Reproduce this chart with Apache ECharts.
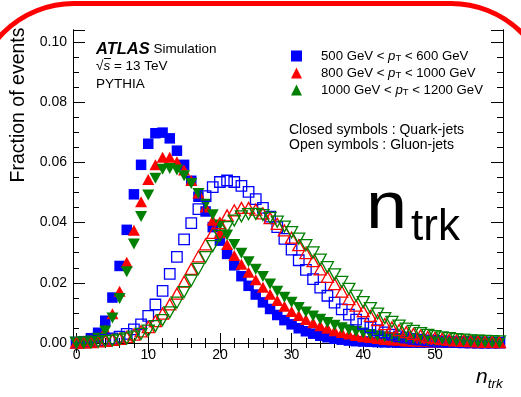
<!DOCTYPE html>
<html>
<head>
<meta charset="utf-8">
<script src="https://cdn.jsdelivr.net/npm/echarts@6/dist/echarts.min.js"></script>
<style>
  html, body { margin: 0; padding: 0; background: #fff; }
  #chart { width: 521px; height: 397px; }
</style>
</head>
<body>
<div id="chart"></div>
<script>
// Track multiplicity bins (bin centres)
const nTrk = [0,1,2,3,4,5,6,7,8,9,10,11,12,13,14,15,16,17,18,19,
              20,21,22,23,24,25,26,27,28,29,30,31,32,33,34,35,36,37,38,39,
              40,41,42,43,44,45,46,47,48,49,50,51,52,53,54,55,56,57,58,59];

// Quark-jets (closed symbols)
const quark500 = [0.0002,0.0006,0.0016,0.0034,0.0074,0.0151,0.0256,0.0376,0.0494,0.0592,
  0.0662,0.0697,0.0699,0.0680,0.0639,0.0592,0.0539,0.0486,0.0437,0.0385,
  0.0340,0.0296,0.0258,0.0222,0.0190,0.0161,0.0135,0.0113,0.0093,0.0076,
  0.0062,0.0049,0.0039,0.0031,0.0024,0.0019,0.0014,0.0011,0.0008,0.0006,
  0.0005,0.0004,0.0003,0.0002,0.0002,0.0001,0.0001,0.0001,0.0001,0.0001,
  0.0001,0.0001,0.0001,0.0001,0.0001,0.0001,0.0001,0.0001,0.0001,0.0001];
const quark800 = [0.0001,0.0003,0.0008,0.0018,0.0043,0.0097,0.0172,0.0268,0.0375,0.0469,
  0.0543,0.0592,0.0617,0.0617,0.0602,0.0575,0.0540,0.0498,0.0452,0.0408,
  0.0366,0.0327,0.0291,0.0262,0.0235,0.0210,0.0185,0.0162,0.0141,0.0122,
  0.0105,0.0091,0.0078,0.0067,0.0057,0.0049,0.0041,0.0035,0.0030,0.0025,
  0.0021,0.0018,0.0015,0.0012,0.0010,0.0009,0.0007,0.0006,0.0005,0.0004,
  0.0004,0.0003,0.0002,0.0002,0.0002,0.0001,0.0001,0.0001,0.0001,0.0001];
const quark1000 = [0.0001,0.0003,0.0007,0.0016,0.0040,0.0083,0.0148,0.0237,0.0329,0.0420,
  0.0492,0.0547,0.0577,0.0580,0.0575,0.0556,0.0530,0.0497,0.0461,0.0426,
  0.0392,0.0359,0.0327,0.0298,0.0270,0.0245,0.0221,0.0196,0.0172,0.0152,
  0.0135,0.0118,0.0103,0.0090,0.0079,0.0068,0.0059,0.0051,0.0044,0.0038,
  0.0033,0.0028,0.0024,0.0021,0.0018,0.0015,0.0013,0.0011,0.0010,0.0008,
  0.0007,0.0006,0.0005,0.0004,0.0004,0.0003,0.0003,0.0002,0.0002,0.0002];

// Gluon-jets (open symbols)
const gluon500 = [0.0001,0.0002,0.0004,0.0007,0.0010,0.0015,0.0021,0.0030,0.0045,0.0062,
  0.0090,0.0128,0.0173,0.0230,0.0286,0.0344,0.0398,0.0445,0.0488,0.0518,
  0.0535,0.0540,0.0535,0.0522,0.0502,0.0478,0.0449,0.0420,0.0385,0.0346,
  0.0310,0.0275,0.0243,0.0212,0.0184,0.0157,0.0134,0.0112,0.0094,0.0078,
  0.0064,0.0052,0.0043,0.0035,0.0028,0.0022,0.0018,0.0014,0.0011,0.0009,
  0.0007,0.0005,0.0004,0.0003,0.0002,0.0002,0.0001,0.0001,0.0001,0.0001];
const gluon800 = [0.0001,0.0002,0.0003,0.0005,0.0007,0.0010,0.0014,0.0020,0.0028,0.0039,
  0.0053,0.0073,0.0098,0.0128,0.0164,0.0204,0.0246,0.0288,0.0328,0.0366,
  0.0398,0.0424,0.0441,0.0449,0.0449,0.0443,0.0431,0.0415,0.0396,0.0374,
  0.0350,0.0325,0.0299,0.0272,0.0245,0.0220,0.0196,0.0171,0.0146,0.0124,
  0.0106,0.0090,0.0076,0.0063,0.0052,0.0043,0.0036,0.0030,0.0025,0.0020,
  0.0017,0.0014,0.0011,0.0009,0.0008,0.0006,0.0005,0.0004,0.0004,0.0003];
const gluon1000 = [0.0001,0.0001,0.0002,0.0004,0.0006,0.0008,0.0011,0.0015,0.0021,0.0030,
  0.0041,0.0056,0.0076,0.0102,0.0134,0.0169,0.0207,0.0246,0.0285,0.0322,
  0.0356,0.0385,0.0407,0.0421,0.0428,0.0429,0.0425,0.0416,0.0403,0.0387,
  0.0368,0.0347,0.0325,0.0301,0.0277,0.0252,0.0228,0.0203,0.0180,0.0157,
  0.0136,0.0116,0.0098,0.0083,0.0070,0.0058,0.0048,0.0040,0.0033,0.0027,
  0.0023,0.0019,0.0016,0.0013,0.0011,0.0009,0.0008,0.0007,0.0006,0.0005];

// Axis ticks
const yMajorStep = 0.02;
const yMinorStep = 0.005;
const yMax = 0.104;
const xMajorEvery = 10;
const xMinorEvery = 2;

const FONT = '"Liberation Sans", Arial, Helvetica, sans-serif';
const BLUE = '#0000ff', RED = '#ff0000', GREEN = '#008000';

const legendText = {
  q500:  '500 GeV < {p|p}{s|T} < 600 GeV',
  q800:  '800 GeV < {p|p}{s|T} < 1000 GeV',
  q1000: '1000 GeV < {p|p}{s|T} < 1200 GeV'
};

function markers(name, values, symbol, rotate, color, open) {
  return {
    name: name,
    type: 'scatter',
    data: values,
    xAxisIndex: 0,
    yAxisIndex: 0,
    symbol: symbol,
    symbolRotate: rotate,
    symbolSize: symbol === 'rect' ? [10.5, 10.5] : [12, 11],
    itemStyle: open
      ? { color: 'rgba(255,255,255,0)', borderColor: color, borderWidth: 1.3, opacity: 1 }
      : { color: color, borderWidth: 0, opacity: 1 },
    emphasis: { disabled: true },
    silent: true
  };
}

function xAxisDef(position, every, len, labels) {
  return {
    type: 'category',
    data: nTrk,
    position: position,
    boundaryGap: true,
    axisLine: { show: true, lineStyle: { color: '#000', width: 1 } },
    axisTick: {
      show: true, inside: true, alignWithLabel: true, length: len,
      interval: (i) => i % every === 0,
      lineStyle: { color: '#000', width: 1 }
    },
    axisLabel: {
      show: labels, interval: (i) => i % xMajorEvery === 0,
      fontFamily: FONT, fontSize: 14, color: '#000', margin: 5
    },
    splitLine: { show: false }
  };
}

function yAxisDef(position, step, len, labels) {
  return {
    type: 'value',
    min: 0, max: yMax, interval: step,
    position: position,
    axisLine: { show: true, lineStyle: { color: '#000', width: 1 } },
    axisTick: { show: true, inside: true, length: len, lineStyle: { color: '#000', width: 1 } },
    axisLabel: {
      show: labels, fontFamily: FONT, fontSize: 14, color: '#000', margin: 6,
      formatter: (v) => Math.abs(v / yMajorStep - Math.round(v / yMajorStep)) < 1e-6 ? v.toFixed(2) : ''
    },
    splitLine: { show: false }
  };
}

const chart = echarts.init(document.getElementById('chart'), null, { renderer: 'canvas' });

chart.setOption({
  animation: false,
  backgroundColor: '#fff',
  grid: { left: 73, right: 18, top: 30, bottom: 54, containLabel: false },
  xAxis: [
    xAxisDef('bottom', xMajorEvery, 10, true),
    xAxisDef('bottom', xMinorEvery, 5, false),
    xAxisDef('top', xMajorEvery, 10, false),
    xAxisDef('top', xMinorEvery, 5, false)
  ],
  yAxis: [
    yAxisDef('left', yMajorStep, 12, true),
    yAxisDef('left', yMinorStep, 6, false),
    yAxisDef('right', yMajorStep, 12, false),
    yAxisDef('right', yMinorStep, 6, false)
  ],
  legend: {
    data: ['q500', 'q800', 'q1000'],
    orient: 'vertical',
    left: 286, top: 42,
    itemWidth: 11, itemHeight: 11, itemGap: 1,
    selectedMode: false,
    formatter: (name) => legendText[name],
    textStyle: {
      fontFamily: FONT, fontSize: 13.2, color: '#000', padding: [0, 0, 0, 14],
      lineHeight: 14,
      rich: {
        p: { fontFamily: FONT, fontSize: 13.2, fontStyle: 'italic', lineHeight: 14 },
        s: { fontFamily: FONT, fontSize: 9.5, lineHeight: 10, verticalAlign: 'bottom', padding: [6, 0, 0, 0] }
      }
    }
  },
  series: [
    markers('q500', quark500, 'rect', 0, BLUE, false),
    markers('q800', quark800, 'triangle', 0, RED, false),
    markers('q1000', quark1000, 'triangle', 180, GREEN, false),
    markers('g500', gluon500, 'rect', 0, BLUE, true),
    markers('g800', gluon800, 'triangle', 0, RED, true),
    markers('g1000', gluon1000, 'triangle', 180, GREEN, true)
  ],
  graphic: [
    // Y axis title
    {
      type: 'text', x: 19, y: 105, rotation: Math.PI / 2, silent: true,
      style: { text: 'Fraction of events', fontFamily: FONT, fontSize: 19.5, fill: '#000', align: 'center', verticalAlign: 'middle' }
    },
    // X axis title
    {
      type: 'text', x: 476, y: 388, silent: true,
      style: {
        text: '{n|n}{t|trk}', fontFamily: FONT, align: 'left', verticalAlign: 'bottom',
        rich: {
          n: { fontFamily: FONT, fontSize: 21, fontStyle: 'italic', fill: '#000', verticalAlign: 'bottom' },
          t: { fontFamily: FONT, fontSize: 13.5, fontStyle: 'italic', fill: '#000', verticalAlign: 'bottom', padding: [0, 0, -3, 0] }
        }
      }
    },
    // ATLAS label block
    {
      type: 'text', x: 96, y: 49, silent: true,
      style: {
        text: '{a|ATLAS}{b| Simulation}', verticalAlign: 'middle', align: 'left',
        rich: {
          a: { fontFamily: FONT, fontSize: 16.5, fontWeight: 'bold', fontStyle: 'italic', fill: '#000' },
          b: { fontFamily: FONT, fontSize: 13.5, fill: '#000' }
        }
      }
    },
    {
      type: 'text', x: 96, y: 66, silent: true,
      style: {
        text: '{r|√}{s|s}{n| = 13 TeV}', verticalAlign: 'middle', align: 'left',
        rich: {
          r: { fontFamily: FONT, fontSize: 13.5, fill: '#000' },
          s: { fontFamily: FONT, fontSize: 13.5, fontStyle: 'italic', fill: '#000' },
          n: { fontFamily: FONT, fontSize: 13.5, fill: '#000' }
        }
      }
    },
    {
      type: 'line', silent: true,
      shape: { x1: 104, y1: 58.5, x2: 111, y2: 58.5 },
      style: { stroke: '#000', lineWidth: 1 }
    },
    {
      type: 'text', x: 96, y: 84, silent: true,
      style: { text: 'PYTHIA', fontFamily: FONT, fontSize: 13.5, fill: '#000', verticalAlign: 'middle', align: 'left' }
    },
    // Symbol key
    {
      type: 'text', x: 289, y: 130, silent: true,
      style: { text: 'Closed symbols : Quark-jets', fontFamily: FONT, fontSize: 14, fill: '#000', verticalAlign: 'middle', align: 'left' }
    },
    {
      type: 'text', x: 289, y: 145, silent: true,
      style: { text: 'Open symbols : Gluon-jets', fontFamily: FONT, fontSize: 14, fill: '#000', verticalAlign: 'middle', align: 'left' }
    },
    // Large observable label
    {
      type: 'text', x: 366, y: 210, scaleX: 1.12, originX: 0, originY: 0, silent: true,
      style: { text: 'n', fontFamily: FONT, fontSize: 66, fill: '#000', verticalAlign: 'middle', align: 'left' }
    },
    {
      type: 'text', x: 411, y: 228, silent: true,
      style: { text: 'trk', fontFamily: FONT, fontSize: 44, fill: '#000', verticalAlign: 'middle', align: 'left' }
    },
    // Rounded red frame
    {
      type: 'rect', silent: true, z: 100,
      shape: { x: -26, y: 3.5, width: 577, height: 700, r: 100 },
      style: { fill: 'none', stroke: '#ff0000', lineWidth: 5 }
    }
  ]
});
</script>
</body>
</html>
